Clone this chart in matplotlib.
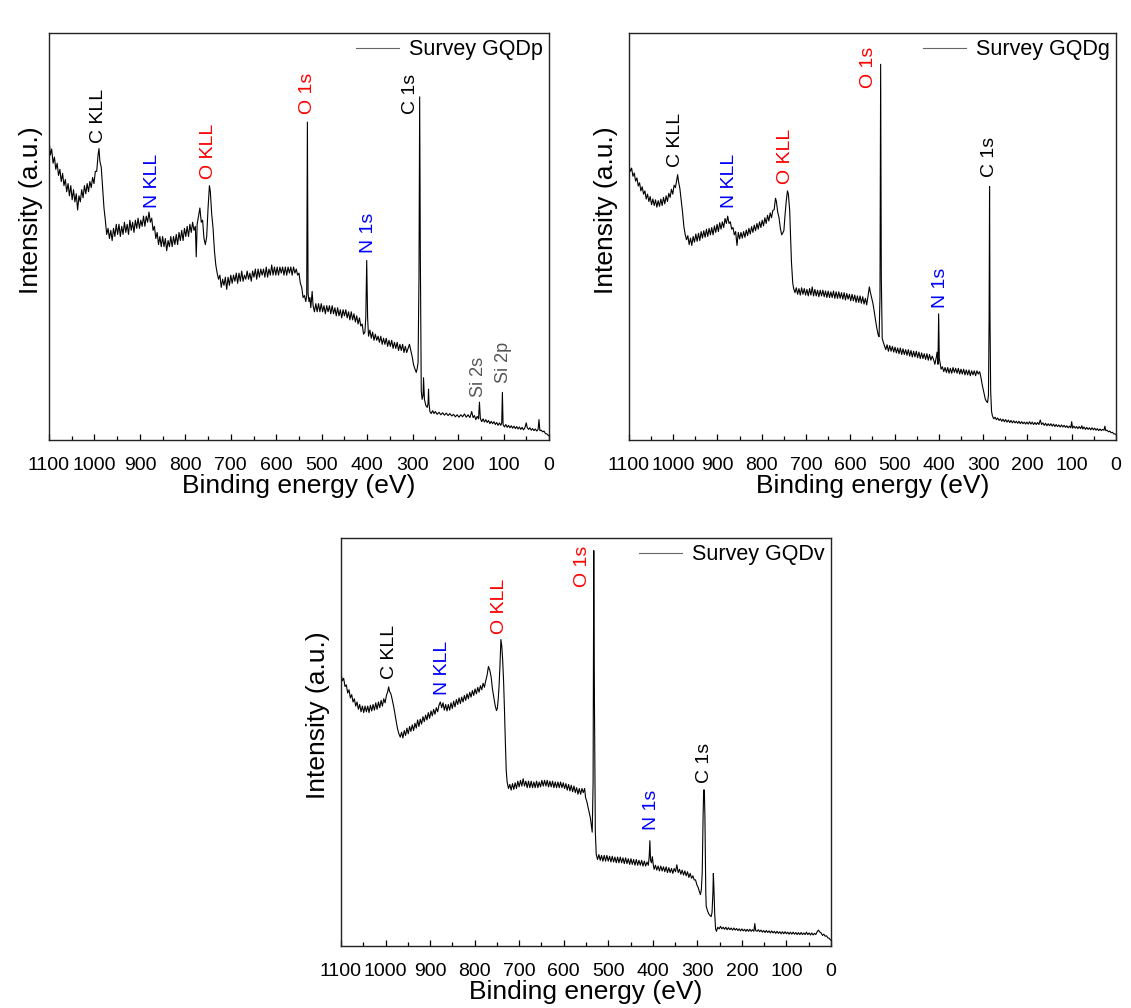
import matplotlib
matplotlib.use("Agg")
import matplotlib.pyplot as plt  # noqa: E402
import numpy as np  # noqa: E402
from matplotlib.ticker import MultipleLocator  # noqa: E402

plt.rcParams["font.family"] = ["Liberation Sans", "DejaVu Sans"]

# ---------------------------------------------------------------------------
# traced survey spectra: (binding energy eV, intensity a.u.)
# ---------------------------------------------------------------------------
gqdp = np.array([
    (1100, 74), (1097, 70), (1094, 71.5), (1091, 68), (1088, 69.5), (1085, 66.5), (1082, 68), (1079, 65),
    (1076, 66.5), (1073, 63.5), (1070, 65.5), (1067, 62.5), (1064, 64), (1061, 61), (1058, 63), (1055, 60),
    (1052, 62.5), (1049, 59), (1046, 61.5), (1043, 58.5), (1040, 60.5), (1037, 56.5), (1034, 60), (1031, 58.5),
    (1028, 61.5), (1025, 59.5), (1022, 62.5), (1019, 60.5), (1016, 63), (1013, 61), (1010, 63.5), (1007, 62),
    (1004, 64.5), (1001, 63), (998, 66), (995, 66), (992, 70), (990, 71.6), (988, 68.5), (985, 67), (982, 62),
    (979, 57), (976, 54), (973, 50.5), (970, 52), (967, 49.5), (964, 51.5), (961, 49), (958, 52), (955, 50),
    (952, 53), (949, 50.5), (946, 53), (943, 50), (940, 52.5), (937, 50.5), (934, 53.5), (931, 51), (928, 53),
    (925, 50.5), (922, 54), (919, 51.5), (916, 53.5), (913, 51), (910, 54), (907, 52), (904, 54.5), (901, 52),
    (898, 54), (895, 52.5), (892, 55), (889, 52.5), (886, 55), (883, 53.5), (880, 56), (877, 53.5), (874, 54.5),
    (871, 51.5), (868, 52.5), (865, 49.5), (862, 51), (859, 48), (856, 50), (853, 47.5), (850, 50), (847, 47.5),
    (844, 49.5), (841, 46.5), (838, 49), (835, 47.5), (832, 50), (829, 47.5), (826, 50), (823, 48), (820, 50.5),
    (817, 48), (814, 51), (811, 49), (808, 51.5), (805, 49), (802, 52), (799, 50), (796, 52.5), (793, 50),
    (790, 53), (787, 51), (784, 53.5), (781, 51.5), (778, 52.5), (776, 45), (774, 53), (771, 55), (768, 57),
    (765, 53.5), (762, 54), (759, 49.5), (756, 48), (753, 50), (750, 57), (747, 62.5), (745, 61), (742, 55.5),
    (739, 52), (736, 46.5), (733, 43), (730, 41), (727, 39.5), (724, 40.5), (721, 37.5), (718, 39.5), (715, 38),
    (712, 40), (709, 37), (706, 40), (703, 38), (700, 40.5), (697, 38.5), (694, 40.5), (691, 39), (688, 41),
    (685, 38.5), (682, 41), (679, 39), (676, 41.5), (673, 39), (670, 40.5), (667, 39.5), (664, 41.5), (661, 39.5),
    (658, 41), (655, 39), (652, 41.5), (649, 40), (646, 42), (643, 39.5), (640, 42), (637, 40), (634, 42),
    (631, 40.5), (628, 42), (625, 40), (622, 42.5), (619, 40), (616, 42), (613, 40.5), (610, 43), (607, 40.5),
    (604, 42.5), (601, 40.5), (598, 42.5), (595, 40.5), (592, 42.5), (589, 41), (586, 42.5), (583, 40.5),
    (580, 42.5), (577, 40.5), (574, 42.5), (571, 41), (568, 42.5), (565, 40.5), (562, 42.5), (559, 41),
    (556, 42), (553, 40.5), (550, 41), (547, 38.5), (544, 37.5), (541, 35), (538, 35.5), (535, 34), (533, 35.5),
    (531.5, 78.1), (530, 36), (528, 34), (526, 35), (524, 32.5), (521, 36.5), (519, 33), (516, 31.5),
    (513, 33.5), (510, 31.5), (507, 33.5), (504, 31.5), (501, 33.5), (498, 31.5), (495, 33), (492, 31),
    (489, 33), (486, 31.5), (483, 33), (480, 31), (477, 33), (474, 31), (471, 32.5), (468, 30.5), (465, 32.5),
    (462, 30.5), (459, 32), (456, 30), (453, 32), (450, 30.5), (447, 32), (444, 30), (441, 31.5), (438, 29.5),
    (435, 31.5), (432, 29.5), (429, 31), (426, 29), (423, 30.5), (420, 28.5), (417, 30), (414, 28), (411, 28.5),
    (408, 26), (405, 26.5), (403, 30), (401, 44.1), (399, 30), (397, 25.5), (394, 27), (391, 25), (388, 26.5),
    (385, 24.5), (382, 26), (379, 24.5), (376, 25.5), (373, 24), (370, 25.5), (367, 23.5), (364, 25),
    (361, 23.5), (358, 25), (355, 23), (352, 24.5), (349, 23), (346, 24.5), (343, 22.5), (340, 24), (337, 22.5),
    (334, 24), (331, 22), (328, 23.5), (325, 22), (322, 23.5), (319, 21.5), (316, 23), (313, 21.5), (310, 22.5),
    (307, 23.5), (304, 22), (301, 20.5), (298, 18.5), (295, 17.5), (292, 16.6), (290, 17.5), (288, 19),
    (286, 40), (284.5, 84.3), (283, 45), (281, 12), (279, 10), (277, 11), (276, 15.3), (274, 10), (271, 8.5),
    (268, 8), (266, 9), (265, 12.5), (264, 9), (262, 7), (259, 6.5), (256, 7.2), (253, 6.5), (250, 7),
    (246, 6.3), (242, 6.8), (238, 6.2), (234, 6.7), (230, 6.1), (226, 6.6), (222, 6), (218, 6.5), (214, 5.9),
    (210, 6.3), (206, 5.7), (202, 6.2), (198, 5.6), (194, 6.2), (190, 5.7), (186, 6.4), (182, 5.6), (178, 6.2),
    (174, 5.5), (170, 7), (167, 5.5), (164, 6), (161, 5), (158, 5.8), (155, 5.2), (153, 9.3), (151, 5.3),
    (148, 4.5), (145, 5.2), (142, 4.4), (139, 5), (136, 4.3), (133, 4.8), (130, 4), (127, 4.6), (124, 4),
    (121, 4.5), (118, 3.8), (115, 4.3), (112, 3.6), (109, 4.2), (106, 3.6), (104, 4.2), (102.5, 11.7),
    (101, 3.8), (98, 3.2), (95, 3.8), (92, 3.1), (89, 3.6), (86, 3), (83, 3.5), (80, 2.9), (77, 3.4), (74, 2.8),
    (71, 3.3), (68, 2.7), (65, 3.2), (62, 2.6), (59, 3.1), (56, 2.5), (53, 3), (50, 4.2), (48, 3.1), (45, 2.6),
    (42, 3), (39, 2.4), (36, 2.8), (33, 2.3), (30, 2.7), (27, 2.2), (24, 2.6), (22, 5), (20, 2.3), (17, 2.4),
    (14, 2), (11, 2.2), (8, 1.6), (5, 1.5), (2, 1.2), (0, 1.0),
])

gqdg = np.array([
    (1100, 67.5), (1097, 66), (1094, 66.8), (1091, 64.8), (1088, 65.6), (1085, 63.6), (1082, 64.4), (1079, 62.4),
    (1076, 63.2), (1073, 61.2), (1070, 62.2), (1067, 60.4), (1064, 61.2), (1061, 59.2), (1058, 60.4), (1055, 58.6),
    (1052, 59.8), (1049, 57.8), (1046, 59.2), (1043, 57.6), (1040, 59), (1037, 57.2), (1034, 58.8), (1031, 57.4),
    (1028, 59.2), (1025, 57.6), (1022, 59.6), (1019, 58), (1016, 60), (1013, 58.6), (1010, 60.6), (1007, 59.6),
    (1004, 61.6), (1001, 60.4), (998, 62.6), (995, 62), (992, 64), (990, 65.2), (988, 63.5), (985, 61.8),
    (982, 59), (979, 56), (976, 52.5), (973, 50.5), (970, 49.2), (967, 50.2), (964, 48), (961, 49.6), (958, 47.8),
    (955, 50), (952, 48.6), (949, 50.6), (946, 48.8), (943, 50.8), (940, 49), (937, 51.2), (934, 49.6),
    (931, 51.4), (928, 49.8), (925, 51.8), (922, 50), (919, 52), (916, 50.4), (913, 52.2), (910, 50.4),
    (907, 52.6), (904, 51), (901, 53), (898, 51.2), (895, 53.4), (892, 51.8), (889, 53.6), (886, 52.2),
    (883, 54.4), (880, 53.2), (877, 55), (874, 53.2), (871, 53.6), (868, 51.8), (865, 52.2), (862, 50.4),
    (859, 51.2), (856, 47.8), (853, 51), (850, 49.4), (847, 51), (844, 49.6), (841, 51.2), (838, 49.8),
    (835, 51.6), (832, 50.2), (829, 52), (826, 50.6), (823, 52.4), (820, 51), (817, 52.8), (814, 51.4),
    (811, 53.2), (808, 51.8), (805, 53.6), (802, 52.2), (799, 54), (796, 52.6), (793, 54.6), (790, 53.2),
    (787, 55.2), (784, 53.8), (781, 55.8), (778, 54.6), (775, 56.4), (772, 56.6), (769, 59.4), (767, 58.6),
    (764, 56), (761, 54.6), (758, 52), (755, 50.4), (752, 51), (750, 51.5), (748, 54.5), (745, 58.4),
    (742, 61.2), (740, 60.5), (737, 56.5), (735, 50), (733, 43.8), (730, 38.5), (728, 37.2), (725, 36.2),
    (722, 37.4), (719, 35.8), (716, 37.2), (713, 35.6), (710, 37.4), (707, 35.8), (704, 37.2), (701, 35.6),
    (698, 37), (695, 35.4), (692, 37.2), (689, 35.6), (686, 37.6), (683, 35.4), (680, 37), (677, 35.4),
    (674, 36.8), (671, 35.2), (668, 36.8), (665, 35.4), (662, 36.8), (659, 35.2), (656, 36.6), (653, 35),
    (650, 36.6), (647, 35), (644, 36.4), (641, 35), (638, 36.6), (635, 34.8), (632, 36.4), (629, 34.8),
    (626, 36.4), (623, 34.8), (620, 36.2), (617, 34.6), (614, 36.2), (611, 34.4), (608, 36), (605, 34.6),
    (602, 35.8), (599, 34.2), (596, 35.8), (593, 34.2), (590, 35.6), (587, 33.8), (584, 35.4), (581, 33.8),
    (578, 35.4), (575, 33.6), (572, 35.2), (569, 33.4), (566, 34.8), (563, 33.2), (560, 35.4), (557, 37.6),
    (555, 36.4), (552, 35), (549, 33.6), (546, 31.6), (543, 29.4), (540, 27.4), (537, 25.8), (535, 25.4),
    (533, 35), (531.5, 92.3), (530, 40), (528, 25), (526, 24.2), (523, 23.2), (520, 22.2), (517, 23.4),
    (514, 21.8), (511, 23.2), (508, 21.8), (505, 23), (502, 21.6), (499, 22.8), (496, 21.4), (493, 22.6),
    (490, 21.2), (487, 22.6), (484, 21), (481, 22.4), (478, 21), (475, 22.2), (472, 20.8), (469, 22.2),
    (466, 20.6), (463, 22), (460, 20.4), (457, 21.8), (454, 20.4), (451, 21.8), (448, 20.2), (445, 21.6),
    (442, 20), (439, 21.4), (436, 20), (433, 21.2), (430, 19.8), (427, 21.2), (424, 19.6), (421, 21),
    (418, 19.6), (415, 20.6), (412, 19.8), (409, 18.6), (406, 20.2), (404, 21.6), (402, 18.6), (400.5, 31),
    (399, 20), (397, 18.8), (395, 17.4), (392, 18), (389, 16.8), (386, 17.8), (383, 16.6), (380, 17.8),
    (377, 16.4), (374, 17.6), (371, 16.4), (368, 17.8), (365, 16.6), (362, 17.6), (359, 16.4), (356, 17.6),
    (353, 16.2), (350, 17.4), (347, 16.2), (344, 17.4), (341, 16), (338, 17.2), (335, 16), (332, 17.2),
    (329, 15.8), (326, 17), (323, 16), (320, 17), (317, 15.8), (314, 17), (311, 16.2), (308, 16.8), (305, 15.4),
    (302, 13.5), (300, 12.5), (297, 11), (295, 10), (292, 9.4), (290, 9.2), (288, 11), (286.5, 30),
    (285.5, 62.3), (284.5, 30), (283, 12), (281, 7), (279, 5.9), (276, 5.2), (273, 5.6), (270, 5), (267, 5.4),
    (264, 4.8), (261, 5.2), (258, 4.6), (255, 5.1), (252, 4.5), (249, 5), (246, 4.4), (243, 4.9), (240, 4.3),
    (237, 4.8), (234, 4.2), (231, 4.7), (228, 4.2), (225, 4.6), (222, 4.1), (219, 4.6), (216, 4), (213, 4.5),
    (210, 4), (207, 4.4), (204, 3.9), (201, 4.4), (198, 3.9), (195, 4.5), (192, 3.9), (189, 4.4), (186, 3.8),
    (183, 4.3), (180, 3.8), (177, 4.3), (174, 3.8), (171, 4.9), (168, 3.8), (165, 4.2), (162, 3.6), (159, 4.1),
    (156, 3.5), (153, 4), (150, 3.5), (147, 4), (144, 3.4), (141, 3.9), (138, 3.3), (135, 3.8), (132, 3.3),
    (129, 3.7), (126, 3.2), (123, 3.7), (120, 3.2), (117, 3.6), (114, 3.1), (111, 3.5), (108, 3), (105, 3.4),
    (102, 3), (100, 4.5), (98, 2.9), (95, 3.4), (92, 2.9), (89, 3.3), (86, 2.8), (83, 3.3), (80, 2.8),
    (77, 3.5), (75, 2.7), (72, 3.2), (69, 2.6), (66, 3.1), (63, 2.6), (60, 3), (57, 2.5), (54, 3), (51, 2.5),
    (48, 2.9), (45, 2.4), (42, 2.8), (39, 2.3), (36, 2.7), (33, 2.3), (30, 2.6), (27, 2.4), (25, 3.4),
    (23, 2.3), (20, 2.4), (17, 2), (14, 2.2), (11, 1.8), (8, 1.9), (5, 1.5), (2, 1.5), (0, 1.3),
])

gqdv = np.array([
    (1100, 67), (1097, 65), (1094, 65.6), (1091, 63.6), (1088, 64), (1085, 62), (1082, 62.8), (1079, 60.8),
    (1076, 61.6), (1073, 59.8), (1070, 60.6), (1067, 58.8), (1064, 59.8), (1061, 58), (1058, 59.2), (1055, 57.4),
    (1052, 58.8), (1049, 57.2), (1046, 58.8), (1043, 57.4), (1040, 58.8), (1037, 57.2), (1034, 59), (1031, 57.6),
    (1028, 59.2), (1025, 57.8), (1022, 59.6), (1019, 58), (1016, 59.8), (1013, 58.4), (1010, 60.2), (1007, 58.8),
    (1004, 60.6), (1001, 59.6), (998, 61.4), (995, 62.4), (993, 63.5), (991, 62.4), (988, 61.8), (985, 60.4),
    (982, 58.8), (979, 57), (976, 55), (973, 53.2), (970, 52), (967, 51.2), (964, 52.4), (961, 51), (958, 52.8),
    (955, 51.6), (952, 53.4), (949, 52), (946, 53.8), (943, 52.6), (940, 54.2), (937, 52.8), (934, 54.6),
    (931, 53.4), (928, 55.4), (925, 53.8), (922, 55.6), (919, 54.4), (916, 56.2), (913, 55), (910, 56.6),
    (907, 55.4), (904, 57.2), (901, 55.8), (898, 57.6), (895, 56.4), (892, 58), (889, 56.8), (886, 58.4),
    (883, 57.4), (880, 59), (877, 59.8), (874, 58.4), (871, 59.6), (868, 57.8), (865, 59.2), (862, 57.6),
    (859, 59.2), (856, 57.8), (853, 59.6), (850, 58.2), (847, 60), (844, 58.6), (841, 60.4), (838, 59.2),
    (835, 60.8), (832, 59.4), (829, 61), (826, 59.8), (823, 61.4), (820, 60.2), (817, 61.8), (814, 60.6),
    (811, 62.2), (808, 61), (805, 62.6), (802, 61.4), (799, 63), (796, 61.8), (793, 63.4), (790, 62.2),
    (787, 63.8), (784, 62.8), (781, 64.4), (778, 63.4), (775, 65), (772, 66.4), (769, 68.5), (766, 67.6),
    (763, 66), (760, 63), (757, 61), (754, 59), (751, 57.7), (749, 58.2), (747, 60.5), (745, 64), (743, 69),
    (741, 75.1), (739, 73.5), (737, 70), (735, 65), (733, 58), (731, 50), (729, 43), (727, 40.2), (724, 38.6),
    (721, 39.6), (718, 38.2), (715, 39.8), (712, 38.4), (709, 40), (706, 38.6), (703, 40.4), (700, 39),
    (697, 40.6), (694, 39.2), (691, 41), (688, 39.2), (685, 40.4), (682, 38.8), (679, 40.4), (676, 38.8),
    (673, 40.4), (670, 38.8), (667, 40.2), (664, 38.8), (661, 40.4), (658, 38.8), (655, 40.2), (652, 39),
    (649, 40.6), (646, 39.2), (643, 40.6), (640, 39.2), (637, 40.6), (634, 39), (631, 40.4), (628, 39),
    (625, 40.4), (622, 38.8), (619, 40.2), (616, 38.8), (613, 40.2), (610, 38.8), (607, 40.2), (604, 38.8),
    (601, 40), (598, 38.6), (595, 39.8), (592, 38.2), (589, 39.6), (586, 38), (583, 39.4), (580, 37.8),
    (577, 39.2), (574, 37.6), (571, 38.8), (568, 37.2), (565, 38.6), (562, 37.2), (559, 38.6), (556, 37.6),
    (553, 38.6), (551, 36.4), (548, 35.4), (545, 33.8), (542, 32.4), (540, 31.3), (538, 29.6), (536, 27.9),
    (534, 40), (532.5, 96.9), (531, 60), (529, 28), (527, 22.5), (524, 21.2), (521, 22.4), (518, 21),
    (515, 22.2), (512, 20.8), (509, 22.2), (506, 20.8), (503, 22.2), (500, 20.8), (497, 22), (494, 20.6),
    (491, 22), (488, 20.6), (485, 21.8), (482, 20.4), (479, 21.8), (476, 20.4), (473, 21.8), (470, 20.4),
    (467, 21.6), (464, 20.2), (461, 21.6), (458, 20.2), (455, 21.4), (452, 20), (449, 21.4), (446, 20),
    (443, 21.2), (440, 19.8), (437, 21.2), (434, 19.8), (431, 21), (428, 19.8), (425, 21), (422, 19.6),
    (419, 20.8), (416, 19.6), (413, 20.6), (410, 19.8), (408, 22), (406.5, 25.8), (405, 21), (403, 20.4),
    (401, 21.9), (399, 20), (397, 18.8), (394, 19.8), (391, 18.6), (388, 19.6), (385, 18.4), (382, 19.6),
    (379, 18.4), (376, 19.4), (373, 18.2), (370, 19.4), (367, 18), (364, 19.2), (361, 18), (358, 19),
    (355, 17.8), (352, 19), (349, 18.2), (346, 19.9), (343, 18), (340, 18.8), (337, 17.6), (334, 18.6),
    (331, 17.4), (328, 18.4), (325, 17.2), (322, 18.2), (319, 16.8), (316, 17.8), (313, 16.6), (310, 17.2),
    (307, 16.2), (304, 16.2), (301, 15), (298, 14.3), (295, 13.2), (293, 12.6), (291, 13.8), (289, 18),
    (287, 32), (286, 37), (285, 38.3), (284, 37), (283, 32), (282, 22), (281, 13), (280, 9.7), (277, 8.6),
    (274, 7.8), (271, 7.4), (269, 7.2), (267, 8.2), (265, 13), (264, 17.8), (263, 15), (261, 8), (259, 4.2),
    (257, 3.6), (254, 4.6), (251, 4.2), (248, 4.8), (245, 4.2), (242, 4.6), (239, 4.1), (236, 4.6), (233, 4),
    (230, 4.5), (227, 4), (224, 4.4), (221, 3.9), (218, 4.4), (215, 3.9), (212, 4.3), (209, 3.8), (206, 4.2),
    (203, 3.7), (200, 4.2), (197, 3.7), (194, 4.1), (191, 3.6), (188, 4.1), (185, 3.6), (182, 4.1), (179, 3.6),
    (176, 4), (173, 3.6), (171, 5.5), (169, 3.8), (166, 3.6), (163, 4), (160, 3.5), (157, 3.9), (154, 3.4),
    (151, 3.8), (148, 3.3), (145, 3.8), (142, 3.3), (139, 3.7), (136, 3.2), (133, 3.7), (130, 3.2), (127, 3.6),
    (124, 3.1), (121, 3.6), (118, 3.1), (115, 3.5), (112, 3), (109, 3.5), (106, 3), (103, 3.5), (100, 3),
    (97, 3.4), (94, 2.9), (91, 3.4), (88, 2.9), (85, 3.4), (82, 2.9), (79, 3.3), (76, 2.8), (73, 3.3), (70, 2.8),
    (67, 3.3), (64, 2.8), (61, 3.2), (58, 2.8), (55, 3.4), (52, 2.8), (49, 3.2), (46, 2.7), (43, 3.2), (40, 2.7),
    (37, 3.1), (34, 2.8), (31, 3.5), (28, 3.9), (25, 3.4), (22, 3.2), (19, 2.6), (16, 2.9), (13, 2.4), (10, 2.5),
    (7, 2), (4, 1.9), (2, 1.6), (0, 1.4),
])

# peak labels: (text, energy eV, intensity at label foot, colour)
gqdp_peaks = [("C KLL", 992, 73, "black"), ("N KLL", 873, 57, "blue"), ("O KLL", 750, 64, "red"),
              ("O 1s", 531, 80, "red"), ("N 1s", 398, 46, "blue"), ("C 1s", 305, 80, "black"),
              ("Si 2s", 154, 10.5, "#555555"), ("Si 2p", 100, 14, "#555555")]
gqdg_peaks = [("C KLL", 994, 67, "black"), ("N KLL", 873, 57, "blue"), ("O KLL", 746, 63, "red"),
              ("O 1s", 560, 86.5, "red"), ("N 1s", 396, 32.5, "blue"), ("C 1s", 285, 64.5, "black")]
gqdv_peaks = [("C KLL", 990, 65.5, "black"), ("N KLL", 873, 61.5, "blue"), ("O KLL", 745, 76.5, "red"),
              ("O 1s", 558, 88, "red"), ("N 1s", 402, 28.5, "blue"), ("C 1s", 283, 40, "black")]


def draw_panel(ax, trace, name, peaks, ylabel_x):
    ax.plot(trace[:, 0], trace[:, 1], color="black", lw=0.8, label=name)
    for text, ev, y, color in peaks:
        ax.text(ev, y, text, rotation=90, ha="center", va="bottom",
                color=color, fontsize=13 if text.startswith("Si") else 14)
    ax.set_xlim(1100, 0)
    ax.set_ylim(0, 100)
    ax.set_yticks([])
    ax.xaxis.set_major_locator(MultipleLocator(100))
    ax.xaxis.set_minor_locator(MultipleLocator(50))
    ax.tick_params(axis="x", which="major", direction="in", length=4.5, width=0.9,
                   labelsize=14, pad=12)
    ax.tick_params(axis="x", which="minor", direction="in", length=3, width=0.9)
    for sp in ax.spines.values():
        sp.set_linewidth(1.0)
        sp.set_color("#222222")
    ax.set_xlabel("Binding energy (eV)", fontsize=19, labelpad=0)
    ax.set_ylabel("Intensity (a.u.)", fontsize=19)
    ax.yaxis.set_label_coords(ylabel_x, 0.565)
    leg = ax.legend(loc="upper right", frameon=False, fontsize=15.5, handlelength=2.0,
                    handletextpad=0.45, borderaxespad=0.1, borderpad=0.2)
    leg.get_lines()[0].set_color("#666666")


fig = plt.figure(figsize=(11.31, 10.08), dpi=100)
ax1 = fig.add_axes([0.0433, 0.5635, 0.4421, 0.4038])
ax2 = fig.add_axes([0.5561, 0.5635, 0.4306, 0.4038])
ax3 = fig.add_axes([0.3015, 0.0615, 0.4332, 0.4048])

draw_panel(ax1, gqdp, "Survey GQDp", gqdp_peaks, -0.012)
draw_panel(ax2, gqdg, "Survey GQDg", gqdg_peaks, -0.0225)
draw_panel(ax3, gqdv, "Survey GQDv", gqdv_peaks, -0.0225)

fig.savefig("out.png", dpi=100)
